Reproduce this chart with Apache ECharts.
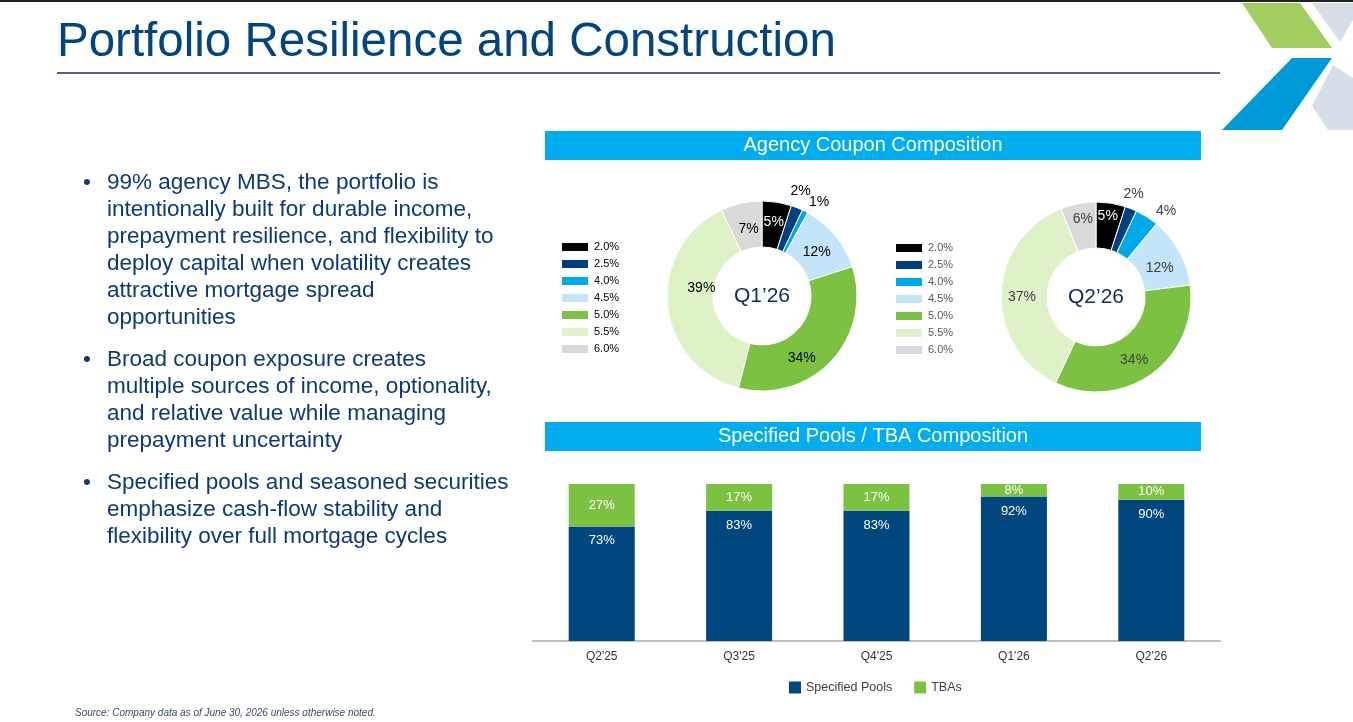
<!DOCTYPE html>
<html>
<head>
<meta charset="utf-8">
<script src="https://cdn.jsdelivr.net/npm/echarts@6/dist/echarts.min.js"></script>
<style>
  html, body { margin:0; padding:0; background:#fff; }
  #main { width:1353px; height:722px; }
</style>
</head>
<body>
<div id="main"></div>
<script>
// coupon composition (donuts)
var coupons = ['2.0%', '2.5%', '4.0%', '4.5%', '5.0%', '5.5%', '6.0%'];
var q1Values = [5, 2, 1, 12, 34, 39, 7];
var q2Values = [5, 2, 4, 12, 34, 37, 6];

// specified pools / TBA (stacked bars)
var quarters = ["Q2'25", "Q3'25", "Q4'25", "Q1'26", "Q2'26"];
var specifiedPools = [73, 83, 83, 92, 90];
var tbas = [27, 17, 17, 8, 10];

var couponColors = ['#000000', '#003F7D', '#00A9E8', '#C4E4FA', '#7DC142', '#DFF2C7', '#D9D9D9'];
var FONT = '"Liberation Sans", Arial, sans-serif';

// nudges so the donut labels sit where the slide puts them
var q1Offsets = [[0, 0], [-13, -13], [-3, -6], [-3, 4], [-15, 11], [14, -15], [3, 6]];
var q2Offsets = [[0, -7], [-14, -11], [2, -2], [-2, 7], [-6, 2], [1, 2], [1, -4]];
var outsideIdx = [1, 2];

function pieData(vals, labelColor, offsets) {
	return coupons.map(function (c, i) {
		return {
			name: c,
			value: vals[i],
			itemStyle: { color: couponColors[i] },
			label: {
				color: i == 0 ? '#fff' : labelColor,
				position: outsideIdx.indexOf(i) >= 0 ? 'outside' : 'inside',
				offset: offsets[i]
			}
		};
	});
}

function pieSeries(center, vals, labelColor, offsets) {
	return {
		type: 'pie',
		center: center,
		radius: [49, 95],
		startAngle: 90,
		clockwise: true,
		silent: true,
		avoidLabelOverlap: false,
		labelLayout: { hideOverlap: false },
		itemStyle: { borderColor: '#fff', borderWidth: 1 },
		label: { show: true, position: 'inside', formatter: '{c}%', fontSize: 14, fontFamily: FONT },
		labelLine: { show: false, length: 4, length2: 0 },
		data: pieData(vals, labelColor, offsets)
	};
}

var myChart = echarts.init(document.getElementById('main'));

var bulletStyle = { fill: '#0B3A78', fontSize: 22.5, lineHeight: 27, fontFamily: FONT };

var option = {
	animation: false,
	textStyle: { fontFamily: FONT },
	graphic: [
		// top border
		{ type: 'rect', shape: { x: 0, y: 0, width: 1353, height: 2 }, style: { fill: '#222' } },
		// title
		{ type: 'text', x: 57, y: 43, style: { text: 'Portfolio Resilience and Construction', fill: '#00457F', fontSize: 47.5, fontFamily: FONT, verticalAlign: 'middle' } },
		{ type: 'line', shape: { x1: 57, y1: 73, x2: 1220, y2: 73 }, style: { stroke: '#1B2A63', lineWidth: 1.5 } },
		// logo
		{ type: 'polygon', shape: { points: [[1242, 3], [1300, 3], [1332, 48], [1272, 48]] }, style: { fill: '#A0CD5E' } },
		{ type: 'polygon', shape: { points: [[1292, 58], [1332, 58], [1282, 130], [1222, 130]] }, style: { fill: '#0099D8' } },
		{ type: 'polygon', shape: { points: [[1312, 3], [1353, 3], [1353, 20], [1340, 42]] }, style: { fill: '#D6DFE7' } },
		{ type: 'polygon', shape: { points: [[1333, 65], [1353, 78], [1353, 130], [1328, 130], [1312, 106]] }, style: { fill: '#D6DFE7' } },
		// bullets
		{ type: 'text', x: 83, y: 169, style: Object.assign({ text: '•' }, bulletStyle) },
		{ type: 'text', x: 107, y: 169, style: Object.assign({ text: '99% agency MBS, the portfolio is\nintentionally built for durable income,\nprepayment resilience, and flexibility to\ndeploy capital when volatility creates\nattractive mortgage spread\nopportunities' }, bulletStyle) },
		{ type: 'text', x: 83, y: 346, style: Object.assign({ text: '•' }, bulletStyle) },
		{ type: 'text', x: 107, y: 346, style: Object.assign({ text: 'Broad coupon exposure creates\nmultiple sources of income, optionality,\nand relative value while managing\nprepayment uncertainty' }, bulletStyle) },
		{ type: 'text', x: 83, y: 469, style: Object.assign({ text: '•' }, bulletStyle) },
		{ type: 'text', x: 107, y: 469, style: Object.assign({ text: 'Specified pools and seasoned securities\nemphasize cash-flow stability and\nflexibility over full mortgage cycles' }, bulletStyle) },
		// section headers
		{ type: 'rect', shape: { x: 545, y: 131, width: 656, height: 29 }, style: { fill: '#00AEEF' } },
		{ type: 'text', x: 873, y: 145, style: { text: 'Agency Coupon Composition', fill: '#fff', fontSize: 20, fontFamily: FONT, align: 'center', verticalAlign: 'middle' } },
		{ type: 'rect', shape: { x: 545, y: 422, width: 656, height: 29 }, style: { fill: '#00AEEF' } },
		{ type: 'text', x: 873, y: 436, style: { text: 'Specified Pools / TBA Composition', fill: '#fff', fontSize: 20, fontFamily: FONT, align: 'center', verticalAlign: 'middle' } },
		// donut centres
		{ type: 'text', x: 762, y: 296, style: { text: 'Q1’26', fill: '#0C2B5E', fontSize: 21, fontFamily: FONT, align: 'center', verticalAlign: 'middle' } },
		{ type: 'text', x: 1096, y: 297, style: { text: 'Q2’26', fill: '#0C2B5E', fontSize: 21, fontFamily: FONT, align: 'center', verticalAlign: 'middle' } },
		// footnote
		{ type: 'text', x: 75, y: 713, style: { text: 'Source: Company data as of June 30, 2026 unless otherwise noted.', fill: '#3A4A66', fontSize: 10, fontStyle: 'italic', fontFamily: FONT, verticalAlign: 'middle' } }
	],
	legend: [
		{
			data: coupons, orient: 'vertical', left: 560, top: 241, padding: 0,
			icon: 'rect', itemWidth: 28, itemHeight: 10, itemGap: 5, itemTextGap: 5,
			selectedMode: false,
			textStyle: { fontSize: 11, color: '#000' }
		},
		{
			data: coupons, orient: 'vertical', left: 894, top: 242, padding: 0,
			icon: 'rect', itemWidth: 28, itemHeight: 10, itemGap: 5, itemTextGap: 5,
			selectedMode: false,
			textStyle: { fontSize: 11, color: '#595959' }
		},
		{
			data: ['Specified Pools', 'TBAs'], left: 789, top: 681, padding: 0,
			icon: 'rect', itemWidth: 12, itemHeight: 12, itemGap: 22, itemTextGap: 7,
			selectedMode: false,
			textStyle: { fontSize: 12.5, color: '#404040' }
		}
	],
	grid: { left: 533, top: 484, width: 687, height: 157 },
	xAxis: {
		type: 'category',
		data: quarters,
		axisLine: { lineStyle: { color: '#BFBFBF', width: 2 } },
		axisTick: { show: false },
		axisLabel: { color: '#333', fontSize: 12, margin: 10 }
	},
	yAxis: { type: 'value', min: 0, max: 100, show: false, splitLine: { show: false } },
	series: [
		pieSeries([762, 296], q1Values, '#000', q1Offsets),
		pieSeries([1096, 297], q2Values, '#404040', q2Offsets),
		{
			name: 'Specified Pools', type: 'bar', stack: 'pools', barWidth: 66,
			data: specifiedPools,
			itemStyle: { color: '#00467F' },
			label: { show: true, position: 'insideTop', distance: 8, formatter: '{c}%', color: '#fff', fontSize: 13 }
		},
		{
			name: 'TBAs', type: 'bar', stack: 'pools', barWidth: 66,
			data: tbas,
			itemStyle: { color: '#7DC142' },
			label: { show: true, position: 'inside', formatter: '{c}%', color: '#fff', fontSize: 13 }
		}
	]
};

myChart.setOption(option);
</script>
</body>
</html>
